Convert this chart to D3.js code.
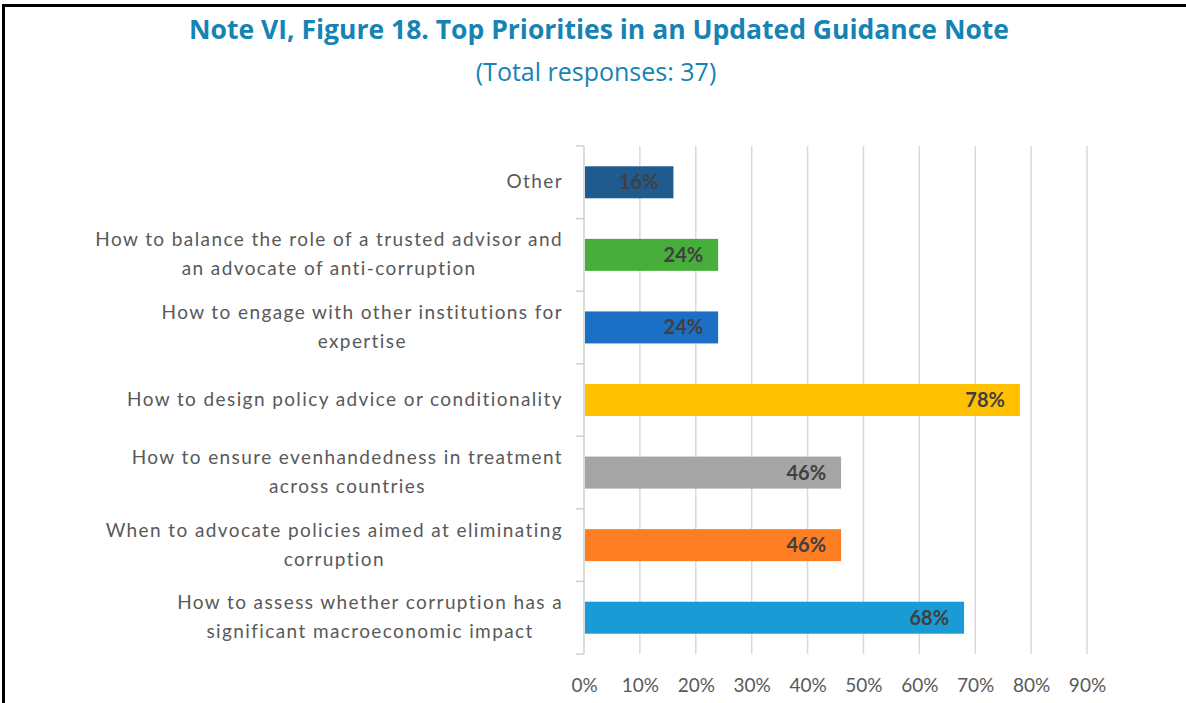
<!DOCTYPE html>
<html>
<head>
<meta charset="utf-8">
<script src="https://cdn.jsdelivr.net/npm/d3@7"></script>
<style>
  body { margin: 0; background: #fff; }
</style>
</head>
<body>
<div id="canvas"></div>
<script>
"use strict"

let svgWidth = 1186
let svgHeight = 703

// Categories from top to bottom, each one split into its printed lines
let categories = [
    ["Other"],
    ["How to balance the role of a trusted advisor and", "an advocate of anti-corruption"],
    ["How to engage with other institutions for", "expertise"],
    ["How to design policy advice or conditionality"],
    ["How to ensure evenhandedness in treatment", "across countries"],
    ["When to advocate policies aimed at eliminating", "corruption"],
    ["How to assess whether corruption has a", "significant macroeconomic impact"]
]
let values = [16, 24, 24, 78, 46, 46, 68]
let barColors = ["#1f5b8f", "#47ad3b", "#1b6fc5", "#ffc000", "#a5a5a5", "#fd7e23", "#1a9bd6"]
let tickValues = [0, 10, 20, 30, 40, 50, 60, 70, 80, 90]

let margin = { top: 146, left: 584, right: 1087, bottom: 654 }

let svg = d3.select("#canvas")
    .append("svg")
    .attr("width", svgWidth)
    .attr("height", svgHeight)

// frame: top and left lines only are visible
svg.append("line")
    .attr("x1", 2).attr("x2", svgWidth)
    .attr("y1", 5.5).attr("y2", 5.5)
    .attr("stroke", "#000").attr("stroke-width", 3)
svg.append("line")
    .attr("x1", 3.5).attr("x2", 3.5)
    .attr("y1", 4).attr("y2", svgHeight)
    .attr("stroke", "#000").attr("stroke-width", 3)

// titles
svg.append("text")
    .attr("x", 599).attr("y", 39)
    .attr("text-anchor", "middle")
    .style("font-family", "'Open Sans', sans-serif")
    .style("font-weight", "bold")
    .style("font-size", "26.5px")
    .attr("fill", "#1583b3")
    .text("Note VI, Figure 18. Top Priorities in an Updated Guidance Note")

svg.append("text")
    .attr("x", 596).attr("y", 81)
    .attr("text-anchor", "middle")
    .style("font-family", "'Open Sans', sans-serif")
    .style("font-size", "25px")
    .attr("fill", "#1583b3")
    .text("(Total responses: 37)")

let xScale = d3.scaleLinear()
    .domain([0, 90])
    .range([margin.left, margin.right])

let yScale = d3.scaleBand()
    .domain(d3.range(categories.length))
    .range([margin.top, margin.bottom])

let barHeight = 32

// gridlines
svg.append("g")
    .selectAll("line")
    .data(tickValues.slice(1))
    .join("line")
    .attr("x1", d => xScale(d)).attr("x2", d => xScale(d))
    .attr("y1", margin.top).attr("y2", margin.bottom)
    .attr("stroke", "#d9d9d9")
    .attr("stroke-width", 1.5)

// x tick labels (no axis line)
let xAxis = d3.axisBottom(xScale)
    .tickValues(tickValues)
    .tickFormat(d => d + "%")
    .tickSize(0)
    .tickPadding(0)

let xg = svg.append("g")
    .attr("transform", `translate(0, 692)`)
    .call(xAxis)
xg.select(".domain").remove()
xg.selectAll("text")
    .attr("dy", 0)
    .style("font-family", "Lato, sans-serif")
    .style("font-size", "19px")
    .attr("fill", "#595959")

// category axis: line with ticks at band edges
svg.append("line")
    .attr("x1", margin.left).attr("x2", margin.left)
    .attr("y1", margin.top).attr("y2", margin.bottom)
    .attr("stroke", "#d0d0d0").attr("stroke-width", 1.5)

let edges = d3.range(categories.length + 1).map(i => margin.top + i * yScale.step())
svg.append("g")
    .selectAll("line")
    .data(edges)
    .join("line")
    .attr("x1", margin.left - 8).attr("x2", margin.left)
    .attr("y1", d => d).attr("y2", d => d)
    .attr("stroke", "#d0d0d0").attr("stroke-width", 1.5)

// bars
svg.append("g")
    .selectAll("rect")
    .data(values)
    .join("rect")
    .attr("x", xScale(0) + 1)
    .attr("y", (d, i) => yScale(i) + yScale.bandwidth() / 2 - barHeight / 2)
    .attr("width", d => xScale(d) - xScale(0) - 1)
    .attr("height", barHeight)
    .attr("fill", (d, i) => barColors[i])

// value labels inside bar ends
svg.append("g")
    .selectAll("text")
    .data(values)
    .join("text")
    .attr("x", d => xScale(d) - 15)
    .attr("y", (d, i) => yScale(i) + yScale.bandwidth() / 2 + 7)
    .attr("text-anchor", "end")
    .style("font-family", "Lato, sans-serif")
    .style("font-weight", "bold")
    .style("font-size", "20px")
    .attr("fill", "#404040")
    .text(d => d + "%")

// category labels: centred lines inside a block that is right aligned
let labelRight = 563
let lineHeight = 29
categories.forEach(function (lines, i) {
    let cy = yScale(i) + yScale.bandwidth() / 2
    let t = svg.append("text")
        .style("font-family", "Lato, sans-serif")
        .style("font-size", "19px")
        .style("letter-spacing", "1.4px")
        .attr("fill", "#595959")
        .attr("text-anchor", "middle")
    let spans = lines.map(function (line, j) {
        return t.append("tspan")
            .attr("y", cy + 6 + (j - (lines.length - 1) / 2) * lineHeight)
            .text(line)
    })
    let widest = d3.max(spans, s => s.node().getComputedTextLength())
    spans.forEach(s => s.attr("x", labelRight - widest / 2))
})
</script>
</body>
</html>
